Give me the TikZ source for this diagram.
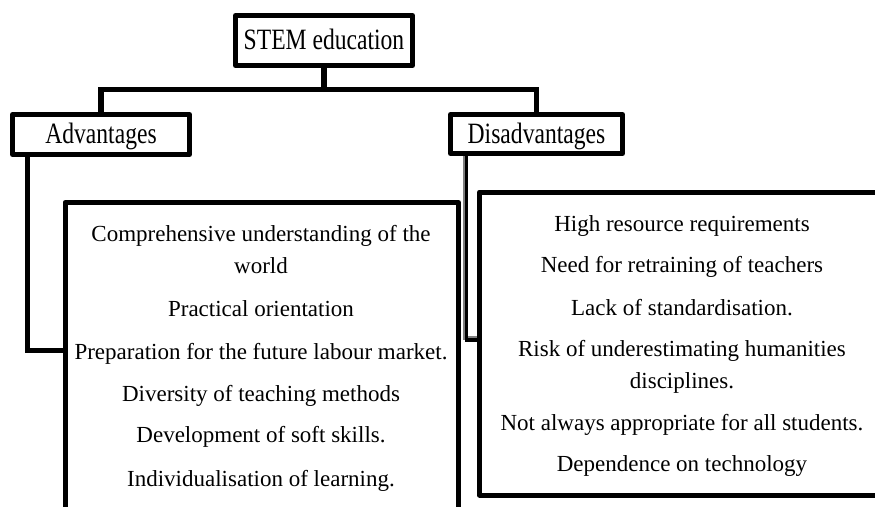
\documentclass[tikz,border=0pt]{standalone}
\usepackage{fontspec}
\setmainfont{Liberation Serif}
\newfontfamily\hdrfont[FakeStretch=0.8]{Liberation Serif}
\usetikzlibrary{calc}
\begin{document}
\begin{tikzpicture}[x=1pt,y=-1pt,
  hdr/.style={draw, line width=5pt, line join=round, inner sep=0pt,
    font=\hdrfont\fontsize{29.5}{30}\selectfont, text height=19.5pt, text depth=1pt},
  listbox/.style={draw, line width=5pt, line join=round, inner sep=0pt},
  item/.style={anchor=base, inner sep=0pt, font=\fontsize{23}{28}\selectfont},
  conn/.style={line width=5.5pt, line join=miter}]
\clip (0,0) rectangle (875,506);
\fill[white] (0,0) rectangle (875,506);
% header boxes
\node[hdr, minimum width=177pt, minimum height=50pt] (stem) at (324,40.5) {STEM education};
\node[hdr, minimum width=177pt, minimum height=40pt] (adv) at (101,134.5) {Advantages};
\node[hdr, minimum width=172pt, minimum height=39pt] (dis) at (536.5,134) {Disadvantages};
% list boxes
\node[listbox, minimum width=393.5pt, minimum height=327.5pt] (advlist) at (261.75,366.25) {};
\node[listbox, minimum width=410.5pt, minimum height=303pt] (dislist) at (684.75,343.5) {};
% connectors
\coordinate (bar) at (324,89.5);
\draw[conn] (stem.south) -- (bar);
\draw[conn] (adv.north) |- (bar) -| (dis.north);
\draw[conn] ($(adv.south west)+(17.5,0)$) |- ($(advlist.north west)+(0,150.5)$);
\draw[line width=3.5pt, gray] ($(dis.south west)+(16.5,0)$) |- ($(dislist.north west)+(0,148.5)$);
\draw[line width=3.3pt, black] ($(dis.south west)+(18.5,0)$) |- ($(dislist.north west)+(0,150.5)$);
% advantages
\node[item] (a1) at (261,241.7) {Comprehensive understanding of the};
\node[item] (a1b) at (261,273) {world};
\node[item] (a2) at (261,316.7) {Practical orientation};
\node[item] (a3) at (261,359) {Preparation for the future labour market.};
\node[item] (a4) at (261,401.7) {Diversity of teaching methods};
\node[item] (a5) at (261,442.5) {Development of soft skills.};
\node[item] (a6) at (261,486.7) {Individualisation of learning.};
% disadvantages
\node[item] (d1) at (682,231.7) {High resource requirements};
\node[item] (d2) at (682,272.7) {Need for retraining of teachers};
\node[item] (d3) at (682,315) {Lack of standardisation.};
\node[item] (d4) at (682,356.7) {Risk of underestimating humanities};
\node[item] (d4b) at (682,388) {disciplines.};
\node[item] (d5) at (682,430) {Not always appropriate for all students.};
\node[item] (d6) at (682,471.7) {Dependence on technology};
\end{tikzpicture}
\end{document}
